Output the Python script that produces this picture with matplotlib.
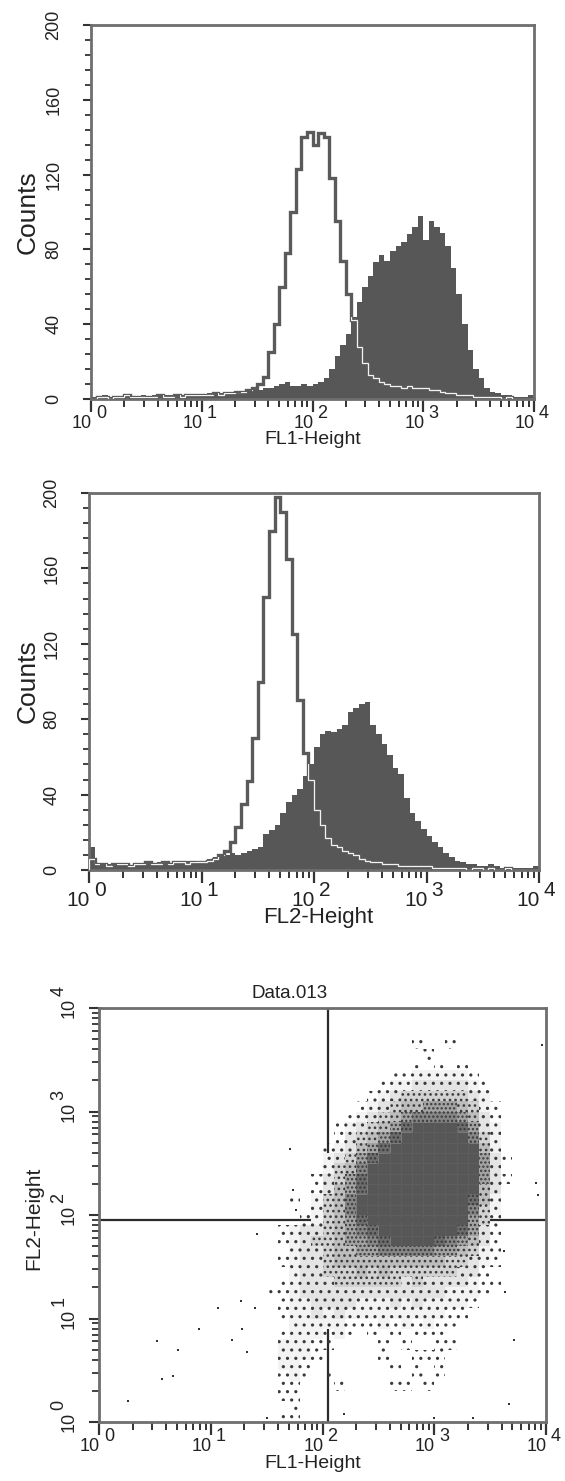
import numpy as np
import matplotlib.pyplot as plt
from matplotlib.patches import Rectangle
from matplotlib.ticker import MultipleLocator, LogLocator, NullFormatter

plt.rcParams['font.family'] = ['Liberation Sans', 'DejaVu Sans']
plt.rcParams['hatch.linewidth'] = 1.1

W, H = 565, 1481

# 80 channels per histogram, 20 channels per decade from 10^0 to 10^4
edges = np.logspace(0, 4, 81)

fl1_control = [
    0, 1, 1, 0, 1, 1, 2, 1, 1, 1, 1, 1, 2, 1, 1, 2, 1, 2, 2, 2,
    2, 2, 3, 2, 3, 3, 4, 4, 5, 6, 8, 12, 25, 40, 60, 78, 100, 123, 140, 143,
    136, 142, 140, 118, 95, 74, 56, 42, 28, 19, 13, 11, 9, 8, 7, 7, 6, 7, 6, 6,
    6, 5, 5, 4, 3, 3, 2, 2, 2, 1, 1, 1, 1, 1, 0, 1, 0, 0, 0, 0,
]
fl1_sample = [
    1, 1, 2, 1, 1, 1, 2, 1, 1, 2, 1, 2, 1, 2, 2, 1, 2, 2, 2, 2,
    2, 3, 2, 3, 3, 3, 3, 4, 4, 5, 5, 6, 6, 7, 8, 9, 7, 7, 8, 7,
    8, 9, 11, 16, 23, 29, 35, 44, 52, 60, 66, 73, 77, 74, 79, 82, 84, 88, 92, 98,
    85, 95, 92, 89, 82, 70, 56, 40, 26, 16, 11, 6, 4, 3, 2, 2, 1, 1, 1, 2,
]
fl2_control = [
    6, 3, 3, 2, 3, 3, 3, 2, 3, 3, 4, 3, 3, 4, 3, 4, 4, 3, 4, 4,
    4, 5, 6, 8, 10, 15, 23, 35, 47, 70, 100, 145, 180, 198, 190, 165, 125, 90, 62, 48,
    32, 24, 17, 13, 12, 10, 9, 8, 6, 5, 4, 4, 3, 3, 3, 2, 2, 2, 2, 2,
    2, 1, 1, 1, 1, 1, 1, 0, 1, 1, 0, 1, 0, 0, 1, 0, 0, 0, 0, 0,
]
fl2_sample = [
    12, 3, 2, 3, 2, 3, 3, 2, 3, 3, 3, 3, 4, 3, 3, 4, 4, 5, 4, 5,
    5, 6, 7, 7, 8, 9, 8, 9, 10, 11, 12, 19, 21, 24, 30, 36, 40, 43, 50, 56,
    65, 72, 74, 73, 75, 77, 84, 86, 88, 89, 77, 72, 67, 61, 54, 51, 38, 30, 26, 22,
    18, 15, 12, 9, 7, 5, 4, 3, 3, 2, 2, 3, 2, 1, 1, 1, 1, 1, 1, 2,
]

# dot plot event density (0 = empty .. 9 = solid), 0.1-decade cells
# columns: FL1 10^1.3 .. 10^3.8, rows: FL2 10^3.7 (top) down to 10^0
dot_col_edges = np.logspace(1.3, 3.8, 26)
dot_row_edges = np.logspace(3.7, 0.0, 38)
dot_density = [
    "0000000000000001001000000",
    "0000000000000000100000000",
    "0000000000000001010100000",
    "0000000000000112222210000",
    "0000000000001223333321000",
    "0000000000012344444432000",
    "0000000000123455666542100",
    "0000000001234567777653100",
    "0000000012345689999863200",
    "0000000013456899999974200",
    "0000000123568999999995200",
    "0000000234689999999996310",
    "0000000245799999999996300",
    "0000001346899999999996310",
    "0000001356899999999995300",
    "0000102457999999999985200",
    "0000002457999999999974200",
    "0000012456899999999964100",
    "0001233456789999999863100",
    "0001234456678999987653100",
    "0000233455667777766542100",
    "0001233455555555554432100",
    "0000233444545444444331000",
    "0001233344444434333321100",
    "0011233333333333332221000",
    "0001223333222323222210000",
    "0001223232222222221100000",
    "0000222221112121211000000",
    "0001222121010101110000000",
    "0002221100001010011000000",
    "0002221000001001110000000",
    "0002210000000101010000000",
    "0001210100000001010000000",
    "0001100010000110100000000",
    "0001100000000000000000000",
    "0000100000000000000000000",
    "0001100000000000000000000",
]
# isolated events outside the main cloud
outlier_fl1 = [1.8, 3.3, 5.1, 4.6, 3.7, 7.9, 11.7, 18.6, 19.1, 15.5, 20.9, 25.1,
               25.7, 51, 54, 58, 9120, 8130, 8510, 5130, 4680, 4170, 4270,
               31.6, 155, 1000, 2240]
outlier_fl2 = [1.6, 6.0, 5.0, 2.8, 2.6, 7.9, 12.6, 14.8, 7.9, 6.2, 4.7, 12.6,
               66, 437, 174, 112, 4365, 204, 155, 6.2, 1.5, 45, 18,
               1.1, 1.2, 1.1, 1.1]
quad_fl1 = 112
quad_fl2 = 89

SPINE = '#6e6e6e'
INK = '#333333'
TEXT = '#222222'
FILL = '#575757'
# tone and speckle used for each density level of the dot plot
TONE = {1: 'none', 2: '#f3f3f3', 3: '#e4e4e4', 4: '#d2d2d2', 5: '#bdbdbd',
        6: '#a3a3a3', 7: '#878787', 8: '#6d6d6d'}
SPECKLE = {1: '..', 2: '..', 3: '..', 4: '...', 5: '...', 6: '....', 7: '....', 8: '....'}


def place(ax, left, top, right, bottom):
    ax.set_position([left / W, 1 - bottom / H, (right - left) / W, (bottom - top) / H])


def ftext(x, y, s, **kw):
    fig.text(x / W, 1 - y / H, s, color=TEXT, **kw)


def style_box(ax):
    for sp in ax.spines.values():
        sp.set_color(SPINE)
        sp.set_linewidth(2.0)


def log_x_ticks(ax, size, base_dy, sup_dy):
    ax.set_xscale('log')
    ax.set_xlim(1, 1e4)
    ax.xaxis.set_major_locator(LogLocator(base=10, numticks=10))
    ax.xaxis.set_minor_locator(LogLocator(base=10, subs=np.arange(2, 10), numticks=50))
    ax.xaxis.set_major_formatter(NullFormatter())
    ax.xaxis.set_minor_formatter(NullFormatter())
    ax.tick_params(axis='x', which='major', direction='out', length=9, width=1.6, color=INK)
    ax.tick_params(axis='x', which='minor', direction='out', length=6, width=1.4, color=INK)
    for k in range(5):
        ax.annotate('10', xy=(10.0 ** k, 0), xycoords=ax.get_xaxis_transform(),
                    xytext=(1, -base_dy), textcoords='offset pixels',
                    ha='right', va='top', fontsize=size, color=TEXT)
        ax.annotate(str(k), xy=(10.0 ** k, 0), xycoords=ax.get_xaxis_transform(),
                    xytext=(5, -sup_dy), textcoords='offset pixels',
                    ha='left', va='top', fontsize=size, color=TEXT)


def histogram_panel(ax, control, sample, tick_size):
    style_box(ax)
    fill = ax.stairs(sample, edges, fill=True, color=FILL, zorder=2)
    ax.stairs(control, edges, color='#5a5a5a', linewidth=2.4, zorder=3)
    inner = ax.stairs(control, edges, color='#f2f2f2', linewidth=0.9, zorder=4)
    inner.set_clip_path(fill)
    log_x_ticks(ax, tick_size[0], tick_size[1], tick_size[2])
    ax.set_ylim(0, 200)
    ax.yaxis.set_major_locator(MultipleLocator(40))
    ax.yaxis.set_minor_locator(MultipleLocator(8))
    ax.yaxis.set_major_formatter(NullFormatter())
    ax.tick_params(axis='y', which='major', direction='out', length=6, width=1.5, color=INK)
    ax.tick_params(axis='y', which='minor', direction='out', length=4, width=1.3, color=INK)
    for v in range(0, 201, 40):
        ax.annotate(str(v), xy=(0, v), xycoords=ax.get_yaxis_transform(),
                    xytext=(-37, 0), textcoords='offset pixels', rotation=90,
                    ha='center', va='center', fontsize=13, color=TEXT)


fig = plt.figure(figsize=(W / 100, H / 100), dpi=100)

# panel 1: FL1 histogram
ax1 = fig.add_axes([0, 0, 1, 1])
place(ax1, 91, 25, 534, 399)
histogram_panel(ax1, fl1_control, fl1_sample, (13, 16, 6))
ftext(28, 212, 'Counts', rotation=90, ha='center', va='center', fontsize=19)
ftext(313, 439, 'FL1-Height', ha='center', va='center', fontsize=14)

# panel 2: FL2 histogram
ax2 = fig.add_axes([0, 0, 1, 1])
place(ax2, 89, 493, 539, 870)
histogram_panel(ax2, fl2_control, fl2_sample, (15, 21, 11))
ftext(28, 681, 'Counts', rotation=90, ha='center', va='center', fontsize=19)
ftext(318, 918, 'FL2-Height', ha='center', va='center', fontsize=16)

# panel 3: FL1 vs FL2 dot plot with quadrant markers
ax3 = fig.add_axes([0, 0, 1, 1])
place(ax3, 99, 1008, 546, 1422)
style_box(ax3)
for r, row in enumerate(dot_density):
    for c, ch in enumerate(row):
        level = int(ch)
        if level == 0:
            continue
        x0, x1 = dot_col_edges[c], dot_col_edges[c + 1]
        y0, y1 = dot_row_edges[r + 1], dot_row_edges[r]
        if level == 9:
            cell = Rectangle((x0, y0), x1 - x0, y1 - y0, facecolor=FILL,
                             edgecolor=FILL, linewidth=0.4, zorder=2)
        else:
            cell = Rectangle((x0, y0), x1 - x0, y1 - y0, facecolor=TONE[level],
                             edgecolor='#3a3a3a', hatch=SPECKLE[level],
                             linewidth=0, zorder=2)
        ax3.add_patch(cell)
ax3.scatter(outlier_fl1, outlier_fl2, s=4, marker='s', color='#333333', linewidths=0, zorder=3)
ax3.axvline(quad_fl1, color='#2b2b2b', linewidth=1.6, zorder=1)
ax3.axhline(quad_fl2, color='#2b2b2b', linewidth=1.6, zorder=1)
log_x_ticks(ax3, 13, 16, 6)
ax3.set_yscale('log')
ax3.set_ylim(1, 1e4)
ax3.yaxis.set_major_locator(LogLocator(base=10, numticks=10))
ax3.yaxis.set_minor_locator(LogLocator(base=10, subs=np.arange(2, 10), numticks=50))
ax3.yaxis.set_major_formatter(NullFormatter())
ax3.yaxis.set_minor_formatter(NullFormatter())
ax3.tick_params(axis='y', which='major', direction='out', length=7, width=1.5, color=INK)
ax3.tick_params(axis='y', which='minor', direction='out', length=5, width=1.3, color=INK)
for k in range(5):
    ax3.annotate('10', xy=(0, 10.0 ** k), xycoords=ax3.get_yaxis_transform(),
                 xytext=(-30, 0), textcoords='offset pixels', rotation=90,
                 ha='center', va='center', fontsize=13, color=TEXT)
    ax3.annotate(str(k), xy=(0, 10.0 ** k), xycoords=ax3.get_yaxis_transform(),
                 xytext=(-40, 17), textcoords='offset pixels', rotation=90,
                 ha='center', va='center', fontsize=13, color=TEXT)
ftext(290, 994, 'Data.013', ha='center', va='center', fontsize=13.5)
ftext(34, 1218, 'FL2-Height', rotation=90, ha='center', va='center', fontsize=15)
ftext(313, 1463, 'FL1-Height', ha='center', va='center', fontsize=14)

fig.savefig('out.png', dpi=100)
